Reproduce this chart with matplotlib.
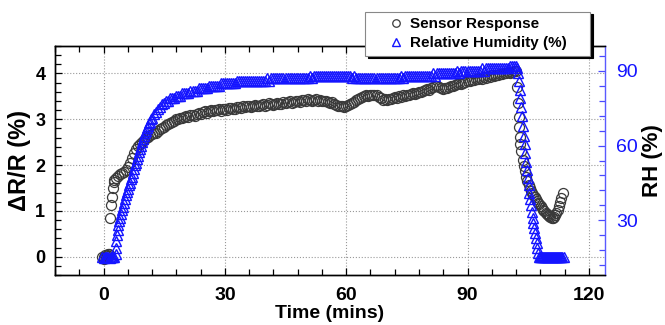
import numpy as np
import matplotlib
matplotlib.use('Agg')
import matplotlib.pyplot as plt
from matplotlib.ticker import MultipleLocator

plt.rcParams['font.family'] = ['Liberation Sans', 'DejaVu Sans']
plt.rcParams['font.weight'] = 'bold'
plt.rcParams['axes.labelweight'] = 'bold'

# sensor response, dR/R in %
sensor_t_start = [-0.3, 0.0, 0.2, 0.4, 0.6, 0.8, 1.0, 1.2, 1.4,
                  1.7, 1.9, 2.1, 2.3, 2.5, 2.7]
sensor_start = [0.00, -0.05, 0.00, 0.03, -0.02, 0.04, 0.05, 0.02, 0.06,
                0.84, 1.13, 1.31, 1.50, 1.62, 1.68]

# half-minute samples from 3.0 to 102.0 min
sensor_t_mid = np.arange(3.0, 102.01, 0.5)
sensor_mid = [
    1.72, 1.77, 1.80, 1.82, 1.85, 1.89, 1.95, 2.05, 2.16, 2.26,
    2.35, 2.42, 2.47, 2.51, 2.55, 2.59, 2.62, 2.65, 2.67, 2.69,
    2.71, 2.75, 2.78, 2.81, 2.84, 2.87, 2.89, 2.92, 2.95, 2.97,
    3.00, 3.01, 3.03, 3.02, 3.05, 3.07, 3.06, 3.09, 3.10, 3.08,
    3.12, 3.13, 3.11, 3.15, 3.17, 3.14, 3.18, 3.20, 3.17, 3.21,
    3.20, 3.22, 3.19, 3.23, 3.22, 3.20, 3.24, 3.25, 3.23, 3.22,
    3.26, 3.27, 3.24, 3.28, 3.26, 3.29, 3.30, 3.27, 3.28, 3.31,
    3.30, 3.28, 3.32, 3.33, 3.30, 3.32, 3.35, 3.33, 3.31, 3.34,
    3.36, 3.34, 3.33, 3.37, 3.35, 3.38, 3.39, 3.36, 3.38, 3.41,
    3.40, 3.38, 3.42, 3.43, 3.41, 3.44, 3.42, 3.40, 3.43, 3.44,
    3.41, 3.42, 3.40, 3.39, 3.41, 3.38, 3.36, 3.37, 3.34, 3.32,
    3.30, 3.28, 3.29, 3.27, 3.30, 3.31, 3.33, 3.35, 3.38, 3.42,
    3.45, 3.47, 3.49, 3.51, 3.52, 3.50, 3.53, 3.54, 3.52, 3.53,
    3.49, 3.46, 3.43, 3.44, 3.42, 3.45, 3.44, 3.46, 3.48, 3.47,
    3.50, 3.49, 3.52, 3.51, 3.54, 3.53, 3.55, 3.57, 3.56, 3.58,
    3.60, 3.59, 3.62, 3.64, 3.66, 3.65, 3.69, 3.71, 3.72, 3.73,
    3.70, 3.68, 3.67, 3.69, 3.68, 3.71, 3.73, 3.72, 3.75, 3.77,
    3.79, 3.78, 3.80, 3.82, 3.84, 3.83, 3.86, 3.85, 3.88, 3.87,
    3.90, 3.89, 3.92, 3.91, 3.94, 3.93, 3.96, 3.95, 3.97, 3.96,
    3.98, 3.99, 4.00, 4.01, 4.03, 4.02, 4.04, 4.05, 4.06,
]

sensor_t_end = [102.3, 102.5, 102.65, 102.8, 102.95, 103.1,
                103.3, 103.6, 103.9, 104.2, 104.5, 104.8,
                105.1, 105.4, 105.7, 106.0, 106.3, 106.6,
                106.9, 107.2, 107.5, 107.8, 108.1, 108.4,
                108.7, 109.0, 109.3, 109.6, 109.9, 110.2,
                110.5, 110.8, 111.1, 111.4, 111.7, 112.0,
                112.3, 112.6, 112.9, 113.2, 113.6]
sensor_end = [3.70, 3.35, 3.06, 2.84, 2.62, 2.45,
              2.30, 2.12, 1.98, 1.86, 1.75, 1.66,
              1.57, 1.50, 1.44, 1.39, 1.34, 1.30,
              1.26, 1.22, 1.18, 1.14, 1.10, 1.06,
              1.02, 0.99, 0.96, 0.93, 0.90, 0.88,
              0.86, 0.85, 0.84, 0.86, 0.90, 0.95,
              1.02, 1.10, 1.19, 1.28, 1.39]

# relative humidity in %
rh_t_start = [-0.3, 0.0, 0.3, 0.6, 0.9, 1.2, 1.5, 1.8, 2.1, 2.4, 2.7,
              3.0, 3.1, 3.2, 3.35, 3.5, 3.7, 3.9, 4.1, 4.3, 4.5,
              4.75, 5.0, 5.25, 5.5, 5.75, 6.0, 6.25, 6.5, 6.75, 7.0,
              7.25, 7.5, 7.75, 8.0, 8.25, 8.5, 8.75, 9.0, 9.25, 9.5,
              9.75, 10.0, 10.25, 10.5, 10.75, 11.0, 11.25, 11.5, 11.75, 12.0,
              12.5, 13.0, 13.5, 14.0, 14.5]
rh_start = [15.3, 15.0, 15.2, 15.4, 15.1, 15.3, 15.0, 15.2, 15.3, 15.1, 15.4,
            16.5, 19.0, 21.5, 24.0, 26.0, 28.0, 29.5, 31.0, 32.5, 34.0,
            35.5, 37.0, 38.5, 40.0, 41.5, 42.5, 44.0, 45.0, 46.5, 47.5,
            49.0, 50.5, 52.0, 53.0, 54.5, 56.0, 57.5, 58.5, 60.0, 61.5,
            62.5, 64.0, 65.0, 66.0, 67.0, 68.0, 69.0, 69.5, 70.5, 71.0,
            72.5, 73.5, 74.5, 75.5, 76.5]

# half-minute samples from 15.0 to 102.0 min
rh_t_mid = np.arange(15.0, 102.01, 0.5)
rh_mid = [
    77, 78, 78, 79, 79, 79, 80, 80, 80, 81,
    81, 81, 81, 82, 82, 82, 82, 83, 83, 83,
    83, 83, 84, 84, 84, 84, 84, 84, 85, 85,
    85, 85, 85, 85, 85, 85, 86, 86, 86, 86,
    86, 86, 86, 86, 86, 86, 86, 86, 86, 86,
    86, 87, 86, 87, 87, 87, 87, 87, 87, 87,
    87, 87, 87, 87, 87, 87, 87, 87, 87, 87,
    87, 87, 88, 87, 88, 88, 88, 88, 88, 88,
    88, 88, 88, 88, 88, 88, 88, 88, 88, 88,
    88, 88, 88, 87, 88, 87, 87, 87, 87, 87,
    87, 87, 87, 87, 87, 87, 87, 87, 87, 87,
    87, 87, 87, 87, 87, 87, 87, 88, 87, 88,
    88, 88, 88, 88, 88, 88, 88, 88, 88, 88,
    88, 88, 88, 89, 88, 89, 89, 89, 89, 89,
    89, 89, 89, 89, 89, 90, 89, 90, 90, 90,
    90, 90, 90, 90, 90, 90, 90, 91, 90, 91,
    91, 91, 91, 91, 91, 91, 91, 91, 91, 91,
    91, 92, 92, 92, 92,
]

rh_t_end = [102.3, 102.5, 102.7, 102.9, 103.1, 103.3, 103.5, 103.7,
            103.9, 104.1, 104.3, 104.5, 104.7, 104.9, 105.1, 105.3,
            105.5, 105.7, 105.9, 106.1, 106.3, 106.5, 106.7, 106.9,
            107.1, 107.3, 107.5, 107.7,
            107.95, 108.2, 108.45, 108.7, 108.95, 109.2, 109.45, 109.7,
            109.95, 110.2, 110.45, 110.7, 110.95, 111.2, 111.45, 111.7,
            111.95, 112.2, 112.45, 112.7, 112.95, 113.2, 113.45, 113.75]
rh_end = [91.0, 89.0, 86.0, 82.5, 79.0, 75.5, 72.0, 68.0,
          64.0, 60.5, 57.0, 53.5, 50.0, 47.0, 44.0, 41.0,
          38.5, 36.0, 33.5, 31.0, 29.0, 27.0, 25.0, 23.0,
          21.0, 19.0, 17.0, 15.3,
          15.2, 15.3, 15.2, 15.2, 15.3, 15.2, 15.2, 15.3,
          15.2, 15.2, 15.3, 15.2, 15.2, 15.3, 15.2, 15.2,
          15.3, 15.2, 15.2, 15.3, 15.2, 15.2, 15.3, 15.2]

sensor_t = np.concatenate([sensor_t_start, sensor_t_mid, sensor_t_end])
sensor = np.concatenate([sensor_start, sensor_mid, sensor_end])
rh_t = np.concatenate([rh_t_start, rh_t_mid, rh_t_end])
rh = np.concatenate([rh_start, rh_mid, rh_end])

BLUE = '#1414ff'

fig = plt.figure(figsize=(6.65, 3.25), dpi=100)
ax = fig.add_axes([55 / 665, 50 / 325, 550 / 665, 229 / 325])
ax2 = ax.twinx()

h1, = ax.plot(sensor_t, sensor, ls='none', marker='o', ms=7.2, mfc='none',
              mec='#3a3a3a', mew=0.9, label='Sensor Response')
h2, = ax2.plot(rh_t, rh, ls='none', marker='^', ms=7.8, mfc='none',
               mec=BLUE, mew=1.0, label='Relative Humidity (%)')

ax.set_xlim(-12, 124)
ax.set_ylim(-0.4, 4.6)
ax2.set_ylim(8, 100)

ax.xaxis.set_major_locator(MultipleLocator(30))
ax.xaxis.set_minor_locator(MultipleLocator(6))
ax.yaxis.set_major_locator(MultipleLocator(1))
ax.yaxis.set_minor_locator(MultipleLocator(0.2))
ax2.yaxis.set_major_locator(MultipleLocator(30))
ax2.yaxis.set_minor_locator(MultipleLocator(6))

ax.grid(True, which='major', ls=':', color='#999999', lw=0.8)

ax.tick_params(which='both', direction='in', top=True, right=False, width=0.9)
ax.tick_params(which='major', length=5)
ax.tick_params(which='minor', length=4)
ax.tick_params(axis='x', labelsize=14, pad=9)
ax.tick_params(axis='y', labelsize=13, pad=7)
ax2.tick_params(axis='y', which='both', direction='in', color='#4a4aff',
                labelcolor=BLUE, labelsize=14, pad=8, width=0.9)
ax2.tick_params(axis='y', which='major', length=5)
ax2.tick_params(axis='y', which='minor', length=4)
plt.setp(ax2.get_yticklabels(), fontweight='normal')

for a in (ax, ax2):
    for s in a.spines.values():
        s.set_linewidth(1.0)
ax.spines['right'].set_visible(False)
ax2.spines['right'].set_color('#5a5aff')

ax.set_xlabel('Time (mins)', fontsize=14, labelpad=0.5)
ax.set_ylabel('ΔR/R (%)', fontsize=17, labelpad=3)
ax2.set_ylabel('RH (%)', fontsize=16, labelpad=3)

# legend box spans a fixed width above the top right of the plot
leg = fig.legend(handles=[h1, h2], loc='upper left',
                 bbox_to_anchor=(365 / 665, 1 - 12 / 325, 225 / 665, 0.001),
                 mode='expand', borderaxespad=0,
                 frameon=True, fancybox=False,
                 shadow={'color': 'black', 'alpha': 1},
                 edgecolor='#888888', fontsize=11, markerscale=0.75,
                 handlelength=3.35, handletextpad=-0.76, borderpad=0.35,
                 labelspacing=0.35)
leg.get_frame().set_linewidth(0.8)

fig.savefig('out.png', dpi=100)
